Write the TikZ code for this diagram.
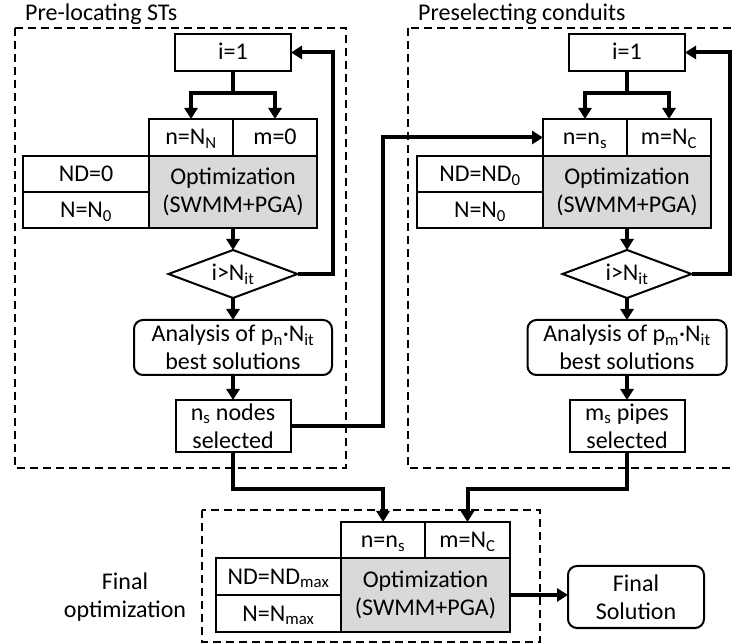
\documentclass[tikz,border=0pt]{standalone}
\usepackage{fontspec}
\setmainfont{Carlito}
\usetikzlibrary{arrows.meta,shapes.geometric}
\definecolor{optgray}{RGB}{217,217,217}
\begin{document}
\begin{tikzpicture}[x=1pt,y=-1pt,
  every node/.style={font=\fontsize{24}{28}\selectfont},
  box/.style={draw, line width=2pt, inner sep=0pt, outer sep=0pt, text height=15pt, text depth=0pt},
  tbox/.style={draw, line width=2pt, inner sep=0pt, outer sep=0pt, align=center},
  optbox/.style={draw, line width=2pt, fill=optgray, inner sep=0pt, outer sep=0pt, align=center},
  rbox/.style={draw, line width=2pt, rounded corners=9pt, inner sep=0pt, outer sep=0pt, align=center},
  dec/.style={draw, diamond, aspect=2.7, line width=2pt, inner sep=0pt, outer sep=0pt, minimum width=129pt, minimum height=48pt},
  flow/.style={line width=4pt, -{Triangle[width=13pt,length=11pt]}},
  link/.style={line width=4pt},
  frame/.style={line width=2.2pt, dash pattern=on 8pt off 5pt},
  ttl/.style={anchor=base west, inner sep=0pt},
]
\useasboundingbox (0,0) rectangle (732,644);

% frames
\draw[frame] (15,28) rectangle (346,468);
\draw[frame] (408,28) rectangle (760,468);
\draw[frame] (202,510) rectangle (540,642);
\node[ttl] (t1) at (25,21) {Pre-locating STs};
\node[ttl] (t2) at (418,21) {Preselecting conduits};

% ---------- left panel ----------
\node[box, minimum width=116pt, minimum height=37pt] (i1L) at (233,52.5) {i=1};
\node[box, minimum width=84pt, minimum height=37pt] (nL) at (191,137.5) {n=N\textsubscript{N}};
\node[box, minimum width=84pt, minimum height=37pt] (mL) at (275,137.5) {m=0};
\node[optbox, minimum width=168pt, minimum height=72pt] (oL) at (233,192) {Optimization\\(SWMM+PGA)};
\node[box, minimum width=126pt, minimum height=36pt] (ndL) at (86,174) {ND=0};
\node[box, minimum width=126pt, minimum height=36pt] (NL) at (86,210) {N=N\textsubscript{0}};
\node[dec] (dL) at (233,274) {i>N\textsubscript{it}};
\node[rbox, minimum width=198pt, minimum height=55pt] (aL) at (233,347.5) {Analysis of p\textsubscript{n}·N\textsubscript{it}\\best solutions};
\node[tbox, minimum width=115pt, minimum height=52pt] (sL) at (233,426) {n\textsubscript{s} nodes\\selected};

% ---------- right panel ----------
\node[box, minimum width=116pt, minimum height=37pt] (i1R) at (627,52.5) {i=1};
\node[box, minimum width=84pt, minimum height=37pt] (nR) at (585,137.5) {n=n\textsubscript{s}};
\node[box, minimum width=84pt, minimum height=37pt] (mR) at (669,137.5) {m=N\textsubscript{C}};
\node[optbox, minimum width=168pt, minimum height=72pt] (oR) at (627,192) {Optimization\\(SWMM+PGA)};
\node[box, minimum width=126pt, minimum height=36pt] (ndR) at (480,174) {ND=ND\textsubscript{0}};
\node[box, minimum width=126pt, minimum height=36pt] (NR) at (480,210) {N=N\textsubscript{0}};
\node[dec] (dR) at (627,274) {i>N\textsubscript{it}};
\node[rbox, minimum width=199pt, minimum height=55pt] (aR) at (627,347.5) {Analysis of p\textsubscript{m}·N\textsubscript{it}\\best solutions};
\node[tbox, minimum width=115pt, minimum height=52pt] (sR) at (627,426) {m\textsubscript{s} pipes\\selected};

% ---------- bottom ----------
\node[box, minimum width=84pt, minimum height=36pt] (nB) at (383,540) {n=n\textsubscript{s}};
\node[box, minimum width=85pt, minimum height=36pt] (mB) at (467.5,540) {m=N\textsubscript{C}};
\node[optbox, minimum width=169pt, minimum height=74pt] (oB) at (425.5,595) {Optimization\\(SWMM+PGA)};
\node[box, minimum width=125pt, minimum height=37pt] (ndB) at (278.5,576.5) {ND=ND\textsubscript{max}};
\node[box, minimum width=125pt, minimum height=37pt] (NB) at (278.5,613.5) {N=N\textsubscript{max}};
\node[rbox, minimum width=136pt, minimum height=62pt] (fin) at (636,597) {Final\\Solution};
\node[align=center, inner sep=0pt] (ftxt) at (125,597) {Final\\optimization};

% ---------- connectors ----------
\coordinate (bL) at (233,93);
\coordinate (bR) at (627,93);
\coordinate (lpL) at (333,0);
\coordinate (lpR) at (730,0);
\coordinate (cx) at (383,0);
\coordinate (jy) at (0,489);

\draw[link] (i1L.south) -- (bL);
\draw[flow] (bL) -| (nL.north);
\draw[flow] (bL) -| (mL.north);
\draw[flow] (oL.south) -- (dL.north);
\draw[flow] (dL.south) -- (aL.north);
\draw[flow] (aL.south) -- (sL.north);
\draw[flow] (dL.east) -| (lpL |- i1L.east) -- (i1L.east);

\draw[link] (i1R.south) -- (bR);
\draw[flow] (bR) -| (nR.north);
\draw[flow] (bR) -| (mR.north);
\draw[flow] (oR.south) -- (dR.north);
\draw[flow] (dR.south) -- (aR.north);
\draw[flow] (aR.south) -- (sR.north);
\draw[flow] (dR.east) -| (lpR |- i1R.east) -- (i1R.east);

\draw[flow] (sL.east) -| (cx |- nR.west) -- (nR.west);

\draw[flow] (sL.south) -- (sL.south |- jy) -| (nB.north);
\draw[flow] (sR.south) -- (sR.south |- jy) -| (mB.north);
\draw[flow] (oB.east) -- (oB.east -| fin.west);
\end{tikzpicture}
\end{document}
